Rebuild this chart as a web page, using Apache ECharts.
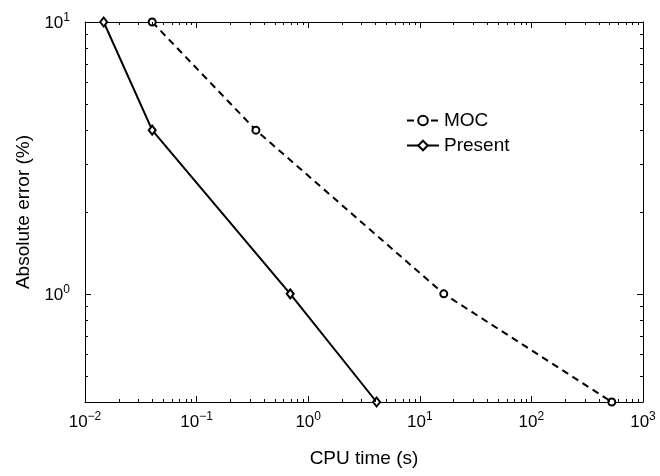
<!DOCTYPE html>
<html>
<head>
<meta charset="utf-8">
<script src="https://cdn.jsdelivr.net/npm/echarts@6/dist/echarts.min.js"></script>
<style>
html,body{margin:0;padding:0;background:#fff;}
#chart{width:660px;height:476px;}
</style>
</head>
<body>
<div id="chart"></div>
<script>
// ---- data ----
const seriesNames = ['MOC', 'Present'];
const mocCpu = [0.04, 0.34, 16.4, 525];
const mocErr = [10, 4, 1, 0.4];
const presentCpu = [0.0147, 0.04, 0.69, 4.1];
const presentErr = [10, 4, 1, 0.4];
const xMin = 0.01, xMax = 1000;
const yMin = 0.4, yMax = 10;
const xTickValues = [0.01, 0.1, 1, 10, 100, 1000];
const yTickValues = [1, 10];
const xTitle = 'CPU time (s)';
const yTitle = 'Absolute error (%)';

// minor tick values (axis decoration)
const xMinorTicks = [];
for (let e = -2; e < 3; e++) for (let m = 2; m <= 9; m++) xMinorTicks.push(m * Math.pow(10, e));
const yMinorTicks = [];
for (let e = -1; e < 1; e++) for (let m = 2; m <= 9; m++) {
  const v = m * Math.pow(10, e);
  if (v > yMin && v < yMax) yMinorTicks.push(v);
}

const FONT = 'Liberation Sans';

function powLabel(v) {
  const e = Math.round(Math.log10(v));
  return '{base|10}{sup|' + String(e).replace('-', '\u2212') + '}';
}
function richTokens() {
  return {
    base: { fontSize: 17, fontFamily: FONT, fill: '#000' },
    sup: { fontSize: 12, fontFamily: FONT, fill: '#000', padding: [0, 0, 11, 0] }
  };
}

function tickRender(isX) {
  return function (params, api) {
    const cs = params.coordSys;
    const L = 3;
    if (isX) {
      const v = api.value(0);
      const p = api.coord([v, 1]);
      const x = Math.round(p[0]) + 0.5;
      const yb = cs.y + cs.height, yt = cs.y;
      return { type: 'group', children: [
        { type: 'line', shape: { x1: x, y1: yb, x2: x, y2: yb - L }, style: { stroke: '#000', lineWidth: 1 } },
        { type: 'line', shape: { x1: x, y1: yt, x2: x, y2: yt + L }, style: { stroke: '#000', lineWidth: 1 } }
      ]};
    } else {
      const v = api.value(1);
      const p = api.coord([1, v]);
      const y = Math.round(p[1]) + 0.5;
      const xl = cs.x, xr = cs.x + cs.width;
      return { type: 'group', children: [
        { type: 'line', shape: { x1: xl, y1: y, x2: xl + L, y2: y }, style: { stroke: '#000', lineWidth: 1 } },
        { type: 'line', shape: { x1: xr, y1: y, x2: xr - L, y2: y }, style: { stroke: '#000', lineWidth: 1 } }
      ]};
    }
  };
}

function labelRender(isX) {
  return function (params, api) {
    const cs = params.coordSys;
    if (isX) {
      const v = api.value(0);
      const p = api.coord([v, 1]);
      return { type: 'text', x: p[0], y: cs.y + cs.height + 9,
        style: { text: powLabel(v), rich: richTokens(), fontSize: 17, fontFamily: FONT, fill: '#000', align: 'center', verticalAlign: 'top' } };
    } else {
      const v = api.value(1);
      const p = api.coord([1, v]);
      return { type: 'text', x: cs.x - 15, y: p[1] + 1,
        style: { text: powLabel(v), rich: richTokens(), fontSize: 17, fontFamily: FONT, fill: '#000', align: 'right', verticalAlign: 'middle' } };
    }
  };
}

function mkAxis(extra) {
  return Object.assign({
    type: 'log', logBase: 10,
    axisLine: { show: true, onZero: false, lineStyle: { color: '#000', width: 1 } },
    axisTick: { show: true, inside: true, length: 6, lineStyle: { color: '#000', width: 1 } },
    axisLabel: { show: false },
    splitLine: { show: false }
  }, extra);
}

const chart = echarts.init(document.getElementById('chart'));
chart.setOption({
  animation: false,
  backgroundColor: '#fff',
  grid: { left: 85, right: 17, top: 22, bottom: 74 },
  legend: {
    data: seriesNames,
    orient: 'vertical',
    left: 401, top: 106,
    itemWidth: 32, itemHeight: 12, itemGap: 6,
    textStyle: { fontSize: 19, fontFamily: FONT, color: '#000' }
  },
  xAxis: [
    mkAxis({
      position: 'bottom', min: xMin, max: xMax,
      name: xTitle, nameLocation: 'middle', nameGap: 47,
      nameTextStyle: { fontSize: 19, fontFamily: FONT, color: '#000' }
    }),
    mkAxis({ position: 'top', min: xMin, max: xMax })
  ],
  yAxis: [
    mkAxis({
      position: 'left', min: yMin, max: yMax,
      name: yTitle, nameLocation: 'middle', nameGap: 52,
      nameTextStyle: { fontSize: 19, fontFamily: FONT, color: '#000' }
    }),
    mkAxis({ position: 'right', min: yMin, max: yMax })
  ],
  series: [
    {
      name: 'MOC', type: 'line',
      data: mocCpu.map((x, i) => [x, mocErr[i]]),
      symbol: 'circle', symbolSize: 7,
      lineStyle: { color: '#000', width: 2, type: [7, 5] },
      itemStyle: { color: '#fff', borderColor: '#000', borderWidth: 2 },
      z: 3
    },
    {
      name: 'Present', type: 'line',
      data: presentCpu.map((x, i) => [x, presentErr[i]]),
      symbol: 'diamond', symbolSize: [7, 9],
      lineStyle: { color: '#000', width: 2, type: 'solid' },
      itemStyle: { color: '#fff', borderColor: '#000', borderWidth: 2 },
      z: 3
    },
    {
      name: 'xminor', type: 'custom', renderItem: tickRender(true),
      encode: { x: 0, y: 1 },
      data: xMinorTicks.map(v => [v, 1]), silent: true, clip: false, z: 4
    },
    {
      name: 'yminor', type: 'custom', renderItem: tickRender(false),
      encode: { x: 0, y: 1 },
      data: yMinorTicks.map(v => [1, v]), silent: true, clip: false, z: 4
    },
    {
      name: 'xlabels', type: 'custom', renderItem: labelRender(true),
      encode: { x: 0, y: 1 },
      data: xTickValues.map(v => [v, 1]), silent: true, clip: false, z: 4
    },
    {
      name: 'ylabels', type: 'custom', renderItem: labelRender(false),
      encode: { x: 0, y: 1 },
      data: yTickValues.map(v => [1, v]), silent: true, clip: false, z: 4
    }
  ]
});
</script>
</body>
</html>
